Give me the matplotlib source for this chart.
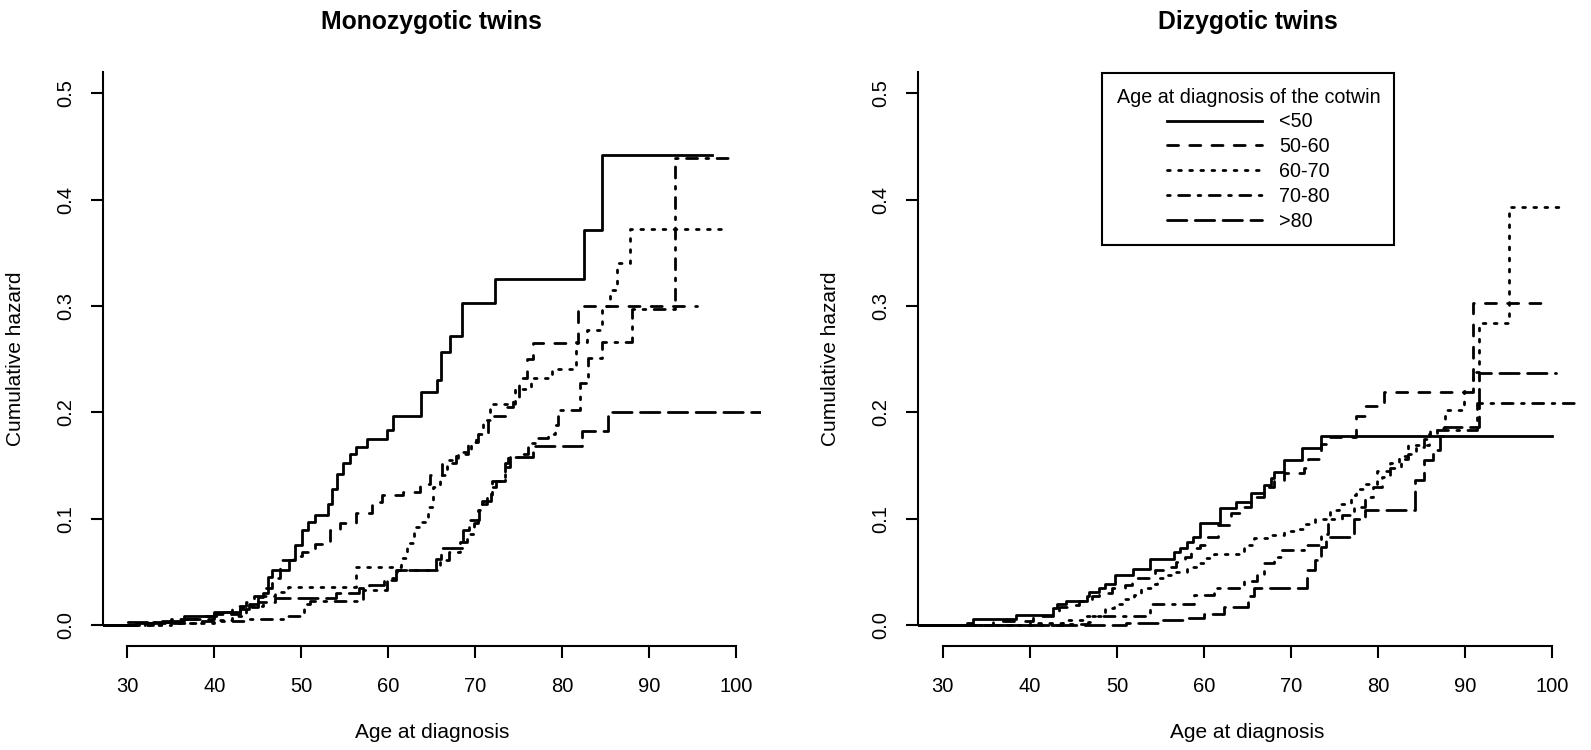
import matplotlib.pyplot as plt

plt.rcParams['font.family'] = ['Liberation Sans', 'DejaVu Sans']

# ── Data ─────────────────────────────────────────────────────
groups = ["<50", "50-60", "60-70", "70-80", ">80"]
line_styles = ["-", (0, (4, 4)), (0, (1, 3)), (0, (1, 3, 4, 3)), (0, (7, 3))]

# Monozygotic twins: step change times (age) and cumulative hazard
mz_lt50_age = [27.2, 31.0, 34.0, 36.5, 40.0, 43.0, 44.0, 45.0, 45.6, 46.2, 46.6, 48.6, 49.3, 50.1,
               50.8, 51.6, 53.1, 53.5, 54.1, 54.8, 55.6, 56.3, 57.6, 59.8, 60.6, 63.8, 65.6, 66.1,
               67.1, 68.5, 72.3, 82.5, 84.5, 97.2]
mz_lt50_haz = [0.0, 0.002, 0.004, 0.008, 0.012, 0.015, 0.020, 0.026, 0.030, 0.045, 0.052, 0.061,
               0.075, 0.089, 0.097, 0.103, 0.114, 0.128, 0.142, 0.152, 0.161, 0.167, 0.175, 0.183,
               0.197, 0.219, 0.230, 0.257, 0.272, 0.303, 0.325, 0.371, 0.442, 0.442]

mz_5060_age = [27.2, 33.0, 36.0, 38.0, 40.5, 42.1, 43.6, 44.6, 45.6, 46.6, 47.6, 49.0, 50.1, 51.6,
               53.3, 54.5, 56.3, 58.1, 59.3, 61.7, 63.6, 64.8, 66.2, 67.8, 69.2, 70.3, 71.5, 73.6,
               74.3, 75.0, 75.9, 76.6, 81.8, 95.5]
mz_5060_haz = [0.0, 0.003, 0.006, 0.008, 0.012, 0.018, 0.022, 0.027, 0.035, 0.044, 0.061, 0.065,
               0.069, 0.076, 0.089, 0.096, 0.105, 0.116, 0.122, 0.125, 0.133, 0.141, 0.152, 0.161,
               0.172, 0.180, 0.197, 0.205, 0.212, 0.232, 0.250, 0.265, 0.300, 0.300]

mz_6070_age = [27.2, 35.0, 40.0, 42.0, 43.6, 45.6, 47.0, 48.5, 56.3, 61.5, 62.1, 62.9, 63.8, 64.6,
               65.1, 65.9, 66.7, 68.0, 69.5, 70.1, 70.9, 71.7, 74.6, 76.4, 78.8, 81.6, 82.8, 84.6,
               85.5, 86.3, 87.8, 98.7]
mz_6070_haz = [0.0, 0.002, 0.005, 0.008, 0.018, 0.027, 0.031, 0.036, 0.055, 0.063, 0.077, 0.092,
               0.097, 0.111, 0.130, 0.141, 0.155, 0.163, 0.172, 0.180, 0.193, 0.208, 0.222, 0.232,
               0.241, 0.266, 0.277, 0.300, 0.315, 0.340, 0.372, 0.372]

mz_7080_age = [27.2, 32.0, 38.0, 44.0, 48.0, 50.3, 51.0, 57.1, 59.8, 61.0, 65.9, 67.0, 68.2, 69.0,
               69.8, 70.3, 70.7, 71.3, 71.9, 73.4, 73.8, 75.0, 76.0, 76.8, 78.3, 79.1, 79.5, 82.0,
               82.9, 84.5, 88.0, 92.9, 99.0]
mz_7080_haz = [0.0, 0.002, 0.004, 0.006, 0.008, 0.020, 0.023, 0.033, 0.044, 0.052, 0.061, 0.069,
               0.078, 0.086, 0.096, 0.108, 0.114, 0.120, 0.135, 0.152, 0.158, 0.161, 0.171, 0.176,
               0.180, 0.188, 0.202, 0.228, 0.251, 0.266, 0.297, 0.439, 0.439]

mz_gt80_age = [27.2, 30.0, 35.0, 40.0, 43.0, 45.0, 47.0, 54.0, 56.6, 57.8, 59.5, 60.9, 65.5, 66.0,
               68.6, 69.3, 70.4, 70.8, 71.8, 72.4, 73.4, 74.0, 76.6, 82.2, 85.3, 102.8]
mz_gt80_haz = [0.0, 0.003, 0.006, 0.010, 0.017, 0.022, 0.025, 0.030, 0.035, 0.038, 0.042, 0.052,
               0.062, 0.072, 0.089, 0.099, 0.108, 0.117, 0.130, 0.135, 0.149, 0.158, 0.168, 0.182,
               0.200, 0.200]

# Dizygotic twins
dz_lt50_age = [27.2, 32.8, 33.5, 38.4, 42.6, 43.1, 44.1, 46.6, 46.8, 47.9, 48.6, 49.8, 51.9, 53.8,
               56.5, 57.2, 58.0, 58.7, 59.5, 61.8, 63.7, 65.4, 66.9, 67.7, 68.1, 69.2, 71.3, 73.5,
               100.0]
dz_lt50_haz = [0.0, 0.002, 0.006, 0.009, 0.016, 0.020, 0.023, 0.027, 0.031, 0.035, 0.039, 0.047,
               0.053, 0.062, 0.069, 0.072, 0.078, 0.083, 0.096, 0.110, 0.116, 0.124, 0.132, 0.138,
               0.144, 0.155, 0.166, 0.178, 0.178]

dz_5060_age = [27.2, 35.8, 40.3, 42.6, 43.3, 45.0, 45.6, 47.1, 47.9, 49.4, 50.9, 51.7, 54.4, 55.4,
               56.8, 57.8, 58.5, 59.5, 60.4, 61.6, 63.1, 64.1, 65.4, 66.9, 68.0, 69.2, 71.5, 72.0,
               73.5, 74.2, 77.5, 78.5, 80.7, 90.9, 98.9]
dz_5060_haz = [0.0, 0.004, 0.008, 0.0125, 0.017, 0.019, 0.023, 0.027, 0.030, 0.0345, 0.038, 0.044,
               0.052, 0.055, 0.059, 0.064, 0.072, 0.075, 0.083, 0.094, 0.105, 0.111, 0.120, 0.130,
               0.135, 0.143, 0.148, 0.156, 0.170, 0.177, 0.197, 0.206, 0.2195, 0.303, 0.303]

dz_6070_age = [27.2, 40.0, 43.8, 46.1, 48.6, 49.7, 50.9, 52.0, 52.8, 53.9, 54.6, 55.4, 56.6, 58.1,
               59.3, 60.0, 61.2, 64.6, 65.8, 67.3, 69.2, 70.3, 71.5, 72.7, 74.5, 75.5, 76.9, 77.5,
               78.5, 79.9, 81.4, 82.4, 83.4, 85.8, 86.8, 87.7, 89.9, 90.9, 91.6, 95.0, 101.4]
dz_6070_haz = [0.0, 0.002, 0.005, 0.008, 0.016, 0.020, 0.024, 0.028, 0.0345, 0.039, 0.044, 0.047,
               0.050, 0.055, 0.058, 0.063, 0.067, 0.075, 0.0815, 0.085, 0.088, 0.090, 0.095, 0.100,
               0.108, 0.114, 0.122, 0.128, 0.133, 0.145, 0.152, 0.159, 0.169, 0.180, 0.185, 0.202,
               0.220, 0.238, 0.284, 0.3935, 0.3935]

dz_7080_age = [27.2, 44.0, 46.7, 47.1, 53.8, 58.8, 61.1, 64.6, 66.1, 66.9, 68.1, 68.8, 71.5, 73.5,
               74.2, 75.9, 77.2, 78.5, 79.4, 80.4, 81.4, 82.6, 83.4, 84.4, 85.3, 86.0, 91.4, 102.8]
dz_7080_haz = [0.0, 0.001, 0.003, 0.008, 0.020, 0.028, 0.0345, 0.041, 0.047, 0.058, 0.064, 0.0705,
               0.075, 0.086, 0.100, 0.103, 0.111, 0.120, 0.130, 0.139, 0.148, 0.156, 0.161, 0.167,
               0.175, 0.183, 0.2086, 0.2086]

dz_gt80_age = [27.2, 51.0, 55.1, 57.6, 60.0, 62.3, 65.0, 65.8, 71.8, 72.7, 73.5, 74.0, 77.2, 78.5,
               84.2, 85.3, 86.3, 87.1, 87.6, 91.6, 100.4]
dz_gt80_haz = [0.0, 0.002, 0.005, 0.007, 0.0103, 0.017, 0.027, 0.0345, 0.052, 0.061, 0.073, 0.083,
               0.100, 0.108, 0.136, 0.155, 0.165, 0.178, 0.186, 0.237, 0.237]

mz_curves = [(mz_lt50_age, mz_lt50_haz), (mz_5060_age, mz_5060_haz), (mz_6070_age, mz_6070_haz),
             (mz_7080_age, mz_7080_haz), (mz_gt80_age, mz_gt80_haz)]
dz_curves = [(dz_lt50_age, dz_lt50_haz), (dz_5060_age, dz_5060_haz), (dz_6070_age, dz_6070_haz),
             (dz_7080_age, dz_7080_haz), (dz_gt80_age, dz_gt80_haz)]

x_ticks = [30, 40, 50, 60, 70, 80, 90, 100]
y_ticks = [0.0, 0.1, 0.2, 0.3, 0.4, 0.5]

# ── Figure ──────────────────────────────────────────────────
fig = plt.figure(figsize=(15.91, 7.5), dpi=100, facecolor="white")
ax1 = fig.add_axes([0.0646, 0.1383, 0.4136, 0.7657])
ax2 = fig.add_axes([0.5773, 0.1383, 0.4136, 0.7657])


def draw_panel(ax, curves, title):
    lines = []
    for (age, haz), ls in zip(curves, line_styles):
        ln, = ax.step(age, haz, where="post", color="black", lw=2.0, linestyle=ls,
                      dash_capstyle="round")
        lines.append(ln)

    ax.set_xlim(27.2, 102.8)
    ax.set_ylim(-0.02, 0.52)
    for side in ["top", "right"]:
        ax.spines[side].set_visible(False)
    ax.spines["left"].set_bounds(0, 0.52)
    ax.spines["bottom"].set_bounds(30, 100)
    for side in ["left", "bottom"]:
        ax.spines[side].set_linewidth(1.5)

    ax.set_xticks(x_ticks)
    ax.set_xticklabels([str(v) for v in x_ticks])
    ax.set_yticks(y_ticks)
    ax.set_yticklabels([f"{v:.1f}" for v in y_ticks], rotation=90, va="center")
    ax.tick_params(direction="out", length=8.6, width=1.5, labelsize=14.5, colors="black")
    ax.tick_params(axis="x", pad=13.5)
    ax.tick_params(axis="y", pad=11.5)

    ax.set_xlabel("Age at diagnosis", fontsize=15)
    ax.xaxis.set_label_coords(0.5, -0.150)
    ax.xaxis.label.set_va("center")
    ax.set_ylabel("Cumulative hazard", fontsize=15)
    ax.yaxis.set_label_coords(-0.1333, 0.5)
    ax.yaxis.label.set_va("center")

    ax.set_title(title, y=1.0866, pad=0, va="center", fontsize=17.8, fontweight="bold")
    return lines


draw_panel(ax1, mz_curves, "Monozygotic twins")
dz_lines = draw_panel(ax2, dz_curves, "Dizygotic twins")

leg = ax2.legend(dz_lines, groups, title="Age at diagnosis of the cotwin",
                 loc="upper left", bbox_to_anchor=(0.2796, 0.9977), borderaxespad=0,
                 fontsize=14.2, title_fontsize=14.2, handlelength=4.8, handletextpad=0.9,
                 labelspacing=0.3, borderpad=0.72, fancybox=False, edgecolor="black",
                 framealpha=1)
leg.get_frame().set_linewidth(1.5)

fig.savefig("out.png", dpi=100, facecolor=fig.get_facecolor())
plt.close()
